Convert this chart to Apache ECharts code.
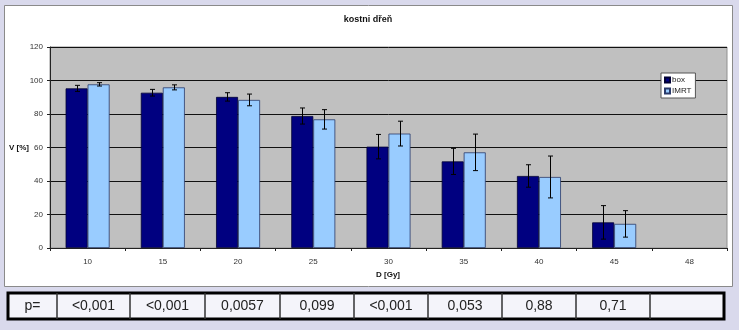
<!DOCTYPE html>
<html><head><meta charset="utf-8">
<script src="https://cdn.jsdelivr.net/npm/echarts@6/dist/echarts.min.js"></script>
<style>html,body{margin:0;padding:0;background:#d9d9ec;}#c{width:739px;height:330px;}</style>
</head><body><div id="c"></div>
<script>
var categories = ['10','15','20','25','30','35','40','45','48'];
var boxValues = [95.3, 92.7, 90.2, 78.8, 60.5, 51.7, 43.0, 15.3, null];
var boxErrors = [1.8, 2.0, 2.5, 4.8, 7.3, 7.8, 6.7, 10.0, null];
var imrtValues = [97.7, 95.9, 88.4, 76.8, 68.3, 57.1, 42.4, 14.4, null];
var imrtErrors = [1.0, 1.5, 3.5, 5.8, 7.4, 10.9, 12.5, 7.9, null];
var yTicks = [0, 20, 40, 60, 80, 100, 120];
var pLabel = 'p=';
var pValues = ['<0,001', '<0,001', '0,0057', '0,099', '<0,001', '0,053', '0,88', '0,71', ''];

var chart = echarts.init(document.getElementById('c'), null, {renderer: 'canvas'});
var BW = 22;

function errData(vals, errs) {
  var out = [];
  for (var i = 0; i < vals.length; i++) {
    if (vals[i] != null) out.push([i, vals[i] - errs[i], vals[i] + errs[i]]);
  }
  return out;
}
function errRender(offset) {
  return function (params, api) {
    var lo = api.coord([api.value(0), api.value(1)]);
    var hi = api.coord([api.value(0), api.value(2)]);
    var x = Math.round(lo[0] + offset) + 0.5;
    var st = {stroke: '#000', lineWidth: 1};
    return {type: 'group', children: [
      {type: 'line', shape: {x1: x, y1: hi[1], x2: x, y2: lo[1]}, style: st},
      {type: 'line', shape: {x1: x - 2.5, y1: hi[1], x2: x + 2.5, y2: hi[1]}, style: st},
      {type: 'line', shape: {x1: x - 2.5, y1: lo[1], x2: x + 2.5, y2: lo[1]}, style: st}
    ]};
  };
}

// table graphics
var tableEls = [];
var tx0 = 8, tx1 = 724, ty0 = 293, ty1 = 319;
var cellEdges = [8, 57, 130, 205, 280, 354, 428, 502, 576, 650, 724];
tableEls.push({type: 'rect', shape: {x: tx0, y: ty0, width: tx1 - tx0, height: ty1 - ty0},
  style: {fill: '#f4f4fa', stroke: '#000', lineWidth: 3}});
for (var k = 1; k < cellEdges.length - 1; k++) {
  tableEls.push({type: 'line', shape: {x1: cellEdges[k], y1: ty0, x2: cellEdges[k], y2: ty1},
    style: {stroke: '#333', lineWidth: 1.5}});
}
var cellTexts = [pLabel].concat(pValues);
for (var j = 0; j < cellTexts.length; j++) {
  tableEls.push({type: 'text', x: (cellEdges[j] + cellEdges[j + 1]) / 2, y: (ty0 + ty1) / 2,
    style: {text: cellTexts[j], fill: '#222', font: '14px "Liberation Sans", Arial, sans-serif',
      textAlign: 'center', textVerticalAlign: 'middle'}});
}

var option = {
  animation: false,
  textStyle: {fontFamily: '"Liberation Sans", Arial, sans-serif'},
  graphic: [
    {type: 'rect', z: -10, shape: {x: 4.5, y: 5.5, width: 728, height: 281},
      style: {fill: '#ffffff', stroke: '#8a8a8a', lineWidth: 1}},
    {type: 'text', x: 368, y: 20, style: {text: 'kostni dřeň', fill: '#111',
      font: 'bold 9px "Liberation Sans", Arial, sans-serif', textAlign: 'center', textVerticalAlign: 'middle'}},
    {type: 'text', x: 19, y: 148, style: {text: 'V [%]', fill: '#111',
      font: 'bold 8px "Liberation Sans", Arial, sans-serif', textAlign: 'center', textVerticalAlign: 'middle'}},
    {type: 'text', x: 388, y: 275, style: {text: 'D [Gy]', fill: '#111',
      font: 'bold 8px "Liberation Sans", Arial, sans-serif', textAlign: 'center', textVerticalAlign: 'middle'}}
  ].concat(tableEls),
  legend: {
    left: 661, top: 73, orient: 'vertical',
    backgroundColor: '#fff', borderColor: '#555', borderWidth: 1,
    padding: [3, 4, 3, 3], itemGap: 3, itemWidth: 5, itemHeight: 5,
    icon: 'rect',
    textStyle: {fontSize: 8, color: '#222', padding: [0, 0, 0, -3]},
    data: ['box', 'IMRT']
  },
  grid: {left: 50, right: 12, top: 47, bottom: 82, show: true,
    backgroundColor: '#c0c0c0', borderColor: '#909090', borderWidth: 1},
  xAxis: {
    type: 'category', data: categories,
    axisLine: {lineStyle: {color: '#222', width: 1}},
    axisTick: {show: true, alignWithLabel: false, length: 3, lineStyle: {color: '#222'}},
    axisLabel: {color: '#333', fontSize: 8, margin: 10}
  },
  yAxis: {
    type: 'value', min: yTicks[0], max: yTicks[yTicks.length - 1], interval: 20,
    axisLine: {show: true, lineStyle: {color: '#222', width: 1}},
    axisTick: {show: true, length: 3, lineStyle: {color: '#222'}},
    axisLabel: {color: '#333', fontSize: 8, margin: 7},
    splitLine: {show: true, lineStyle: {color: '#111', width: 1}}
  },
  series: [
    {name: 'box', type: 'bar', data: boxValues, barWidth: BW, barGap: '0%',
      itemStyle: {color: '#000080', borderColor: '#000033', borderWidth: 0.8}},
    {name: 'IMRT', type: 'bar', data: imrtValues, barWidth: BW, barGap: '0%',
      itemStyle: {color: '#99ccff', borderColor: '#2a3a6a', borderWidth: 0.8}},
    {type: 'custom', data: errData(boxValues, boxErrors), renderItem: errRender(-BW / 2), z: 10,
      encode: {x: 0, y: [1, 2]}},
    {type: 'custom', data: errData(imrtValues, imrtErrors), renderItem: errRender(BW / 2), z: 10,
      encode: {x: 0, y: [1, 2]}}
  ]
};
chart.setOption(option);
</script></body></html>
